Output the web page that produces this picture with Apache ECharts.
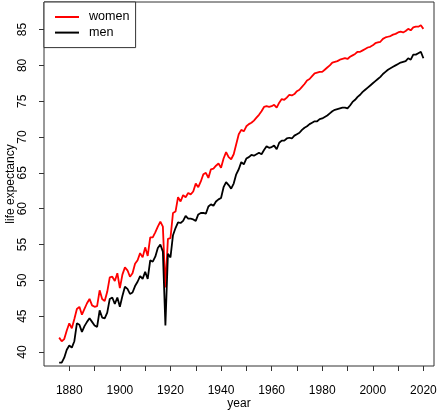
<!DOCTYPE html>
<html lang="en">
<head>
  <meta charset="UTF-8">
  <title>life expectancy</title>
  <style>
    html, body { margin: 0; padding: 0; background: #fff; }
    #main { width: 440px; height: 412px; }
  </style>
</head>
<body>
  <div id="main"></div>

  <script src="https://cdn.jsdelivr.net/npm/echarts@6/dist/echarts.min.js"></script>
  <script>
    // yearly values, 1876 .. 2020
    const firstYear = 1876;
    const women = [
      42.0, 41.5, 41.8, 43.0, 44.0, 43.3, 44.6, 46.0, 46.3, 45.2,
      46.0, 46.8, 47.4, 46.5, 46.3, 46.4, 48.6, 47.4, 47.1, 48.4,
      50.4, 50.5, 49.9, 51.0, 48.9, 50.8, 51.8, 51.4, 50.5, 51.0,
      52.3, 52.8, 53.8, 53.2, 54.6, 53.4, 56.0, 56.0, 56.7, 57.5,
      58.2, 57.5, 49.0, 55.8, 55.9, 59.4, 59.6, 61.6, 61.0, 61.9,
      61.6, 62.2, 62.0, 62.4, 63.5, 63.0, 63.8, 64.8, 65.0, 64.3,
      65.5, 65.6, 66.0, 66.3, 65.7, 67.0, 67.9, 67.2, 66.9, 67.6,
      69.0, 70.4, 71.0, 70.8, 71.5, 71.8, 72.0, 72.3, 72.7, 73.1,
      73.6, 74.2, 74.3, 74.2, 74.3, 74.5, 74.1, 74.8, 75.3, 75.2,
      75.5, 75.9, 75.8, 76.0, 76.4, 76.6, 77.0, 77.4, 77.9, 78.1,
      78.5, 78.9, 79.0, 79.1, 79.1, 79.4, 79.7, 80.0, 80.4, 80.5,
      80.6, 80.8, 80.9, 81.0, 80.9, 81.2, 81.4, 81.6, 81.9, 81.9,
      82.1, 82.3, 82.5, 82.6, 82.8, 83.1, 83.2, 83.3, 83.7, 83.9,
      84.0, 84.1, 84.3, 84.4, 84.6, 84.7, 84.6, 84.8, 85.1, 84.9,
      85.3, 85.4, 85.4, 85.6, 85.1
    ];
    const men = [
      38.5, 38.5, 39.2, 40.3, 40.9, 40.6, 41.5, 44.0, 43.8, 42.8,
      43.6, 44.2, 44.7, 44.2, 43.7, 43.5, 45.8, 44.8, 44.7, 45.5,
      47.4, 47.6, 46.7, 47.6, 46.3, 47.8, 49.1, 48.8, 48.1, 48.3,
      49.2, 49.8, 50.6, 50.2, 51.2, 50.2, 52.8, 52.6, 53.3, 54.5,
      55.0, 54.0, 43.7, 53.7, 53.2, 56.3, 57.3, 58.1, 58.0, 58.3,
      59.0, 58.6, 58.6, 58.5, 58.3, 59.2, 59.4, 59.4, 59.3, 60.3,
      60.6, 60.4, 61.0, 61.3, 61.5, 63.0, 63.7, 63.3, 62.8, 63.5,
      64.8, 65.5, 66.5, 66.2, 67.0, 67.2, 67.5, 67.4, 67.6, 67.8,
      67.6, 68.2, 68.7, 68.5, 68.6, 68.8, 68.3, 69.2, 69.5, 69.5,
      69.8, 69.9, 69.8, 70.2, 70.4, 70.6, 71.0, 71.3, 71.5, 71.8,
      72.0, 72.2, 72.2, 72.5, 72.6, 72.8, 73.0, 73.3, 73.6, 73.8,
      73.9, 74.0, 74.1, 74.1, 74.0, 74.4, 74.9, 75.2, 75.6, 75.9,
      76.3, 76.6, 76.9, 77.2, 77.5, 77.8, 78.1, 78.4, 78.8, 79.1,
      79.4, 79.6, 79.8, 80.0, 80.2, 80.4, 80.5, 80.6, 81.0, 80.8,
      81.5, 81.5, 81.7, 81.9, 81.0
    ];

    const xTicks = [1880, 1890, 1900, 1910, 1920, 1930, 1940, 1950, 1960, 1970, 1980, 1990, 2000, 2010, 2020];
    const xLabels = [1880, 1900, 1920, 1940, 1960, 1980, 2000, 2020];
    const yTicks = [40, 45, 50, 55, 60, 65, 70, 75, 80, 85];

    const pairs = arr => arr.map((v, i) => [firstYear + i, v]);

    const ink = '#333';
    const font = 'Liberation Sans, Arial, sans-serif';

    const myChart = echarts.init(document.getElementById('main'), null, { renderer: 'canvas' });

    const options = {
      animation: false,
      textStyle: { fontFamily: font },
      grid: {
        left: 44, right: 6, top: 2, bottom: 46,
        outerBoundsMode: 'none',
        containLabel: false,
        show: true,
        borderColor: ink,
        borderWidth: 1,
        backgroundColor: '#fff'
      },
      legend: {
        orient: 'vertical',
        left: 44, top: 2,
        padding: [8, 6, 8, 11],
        itemGap: 1.6,
        itemWidth: 24,
        itemHeight: 2,
        icon: 'rect',
        borderColor: ink,
        borderWidth: 1,
        borderRadius: 0,
        backgroundColor: '#fff',
        textStyle: { fontSize: 12.6, color: '#000', lineHeight: 14, padding: [0, 0, 0, 5], fontFamily: font },
        data: ['women', 'men']
      },
      xAxis: {
        type: 'value',
        min: 1870,
        max: 2024.2,
        name: 'year',
        nameLocation: 'middle',
        nameGap: 32,
        nameMoveOverlap: false,
        nameTextStyle: { fontSize: 12, color: '#000' },
        axisLine: { show: false },
        axisTick: { show: true, length: 5, customValues: xTicks, lineStyle: { color: ink } },
        axisLabel: { customValues: xLabels, fontSize: 12, color: '#000', margin: 19, formatter: v => String(v) },
        splitLine: { show: false }
      },
      yAxis: {
        type: 'value',
        min: 38.04,
        max: 88.85,
        name: 'life expectancy',
        nameLocation: 'middle',
        nameRotate: 90,
        nameGap: 27,
        nameMoveOverlap: false,
        nameTextStyle: { fontSize: 12, color: '#000' },
        axisLine: { show: false },
        axisTick: { show: true, length: 5, customValues: yTicks, lineStyle: { color: ink } },
        axisLabel: { customValues: yTicks, rotate: 90, fontSize: 12, color: '#000', margin: 15 },
        splitLine: { show: false }
      },
      series: [
        {
          name: 'women',
          type: 'line',
          showSymbol: false,
          data: pairs(women),
          lineStyle: { color: '#ff0000', width: 1.8 },
          itemStyle: { color: '#ff0000' }
        },
        {
          name: 'men',
          type: 'line',
          showSymbol: false,
          data: pairs(men),
          lineStyle: { color: '#000', width: 1.8 },
          itemStyle: { color: '#000' }
        }
      ]
    };

    myChart.setOption(options);
  </script>
</body>
</html>
